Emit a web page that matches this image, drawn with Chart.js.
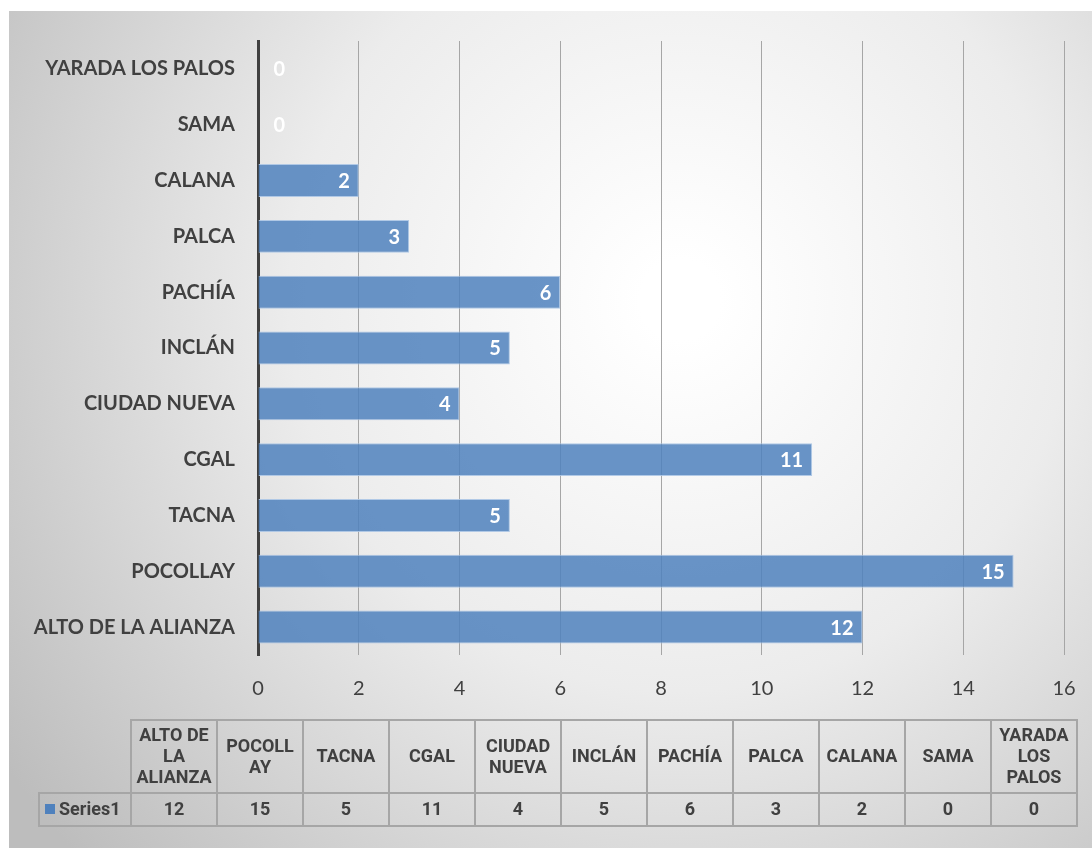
<!DOCTYPE html>
<html lang="es">
<head>
    <meta charset="UTF-8">
    <title>Casos por distrito</title>
    <script src="https://cdn.jsdelivr.net/npm/chart.js"></script>
    <style>
        html, body { margin: 0; padding: 0; background: #ffffff; }
        #wrap { width: 1092px; height: 848px; position: relative; }
    </style>
</head>
<body>
    <div id="wrap">
        <canvas id="barChart" width="1092" height="848"></canvas>
    </div>

    <script>
        // Distritos (orden de la tabla) y cantidades
        var distritos = ['ALTO DE LA ALIANZA', 'POCOLLAY', 'TACNA', 'CGAL', 'CIUDAD NUEVA', 'INCLÁN', 'PACHÍA', 'PALCA', 'CALANA', 'SAMA', 'YARADA LOS PALOS'];
        var cabecerasTabla = [['ALTO DE', 'LA', 'ALIANZA'], ['POCOLL', 'AY'], ['TACNA'], ['CGAL'], ['CIUDAD', 'NUEVA'], ['INCLÁN'], ['PACHÍA'], ['PALCA'], ['CALANA'], ['SAMA'], ['YARADA', 'LOS', 'PALOS']];
        var serie1 = [12, 15, 5, 11, 4, 5, 6, 3, 2, 0, 0];
        var nombreSerie = 'Series1';
        var ticksX = [0, 2, 4, 6, 8, 10, 12, 14, 16];

        // fondo gris con degradado radial
        var fondo = {
            id: 'fondo',
            beforeDraw: function (chart) {
                var ctx = chart.ctx;
                ctx.save();
                ctx.fillStyle = '#ffffff';
                ctx.fillRect(0, 0, chart.width, chart.height);
                var g = ctx.createRadialGradient(680, 300, 40, 680, 300, 820);
                g.addColorStop(0, '#ffffff');
                g.addColorStop(0.45, '#ececec');
                g.addColorStop(1, '#bdbdbd');
                ctx.fillStyle = g;
                ctx.fillRect(9, 11, chart.width - 9, chart.height - 11);
                ctx.restore();
            }
        };

        // etiquetas de valor dentro del extremo de cada barra
        var etiquetas = {
            id: 'etiquetas',
            afterDatasetsDraw: function (chart) {
                var ctx = chart.ctx;
                var meta = chart.getDatasetMeta(0);
                ctx.save();
                ctx.font = 'bold 20px Lato, sans-serif';
                ctx.fillStyle = '#ffffff';
                ctx.textAlign = 'right';
                ctx.textBaseline = 'middle';
                meta.data.forEach(function (bar, i) {
                    var x = Math.max(bar.x - 9, bar.base + 27);
                    ctx.fillText(String(serie1[i]), x, bar.y + 1);
                });
                ctx.restore();
            }
        };

        // tabla de datos debajo del eje
        var tablaDatos = {
            id: 'tablaDatos',
            afterDraw: function (chart) {
                var ctx = chart.ctx;
                var x0 = 131, colW = 86, yTop = 720, yMid = 793, yBot = 826, xSerie = 39;
                var n = distritos.length;
                ctx.save();
                ctx.strokeStyle = '#a6a6a6';
                ctx.lineWidth = 2;
                ctx.strokeRect(x0, yTop, colW * n, yMid - yTop);
                ctx.strokeRect(xSerie, yMid, x0 + colW * n - xSerie, yBot - yMid);
                ctx.beginPath();
                ctx.moveTo(x0, yMid); ctx.lineTo(x0, yBot);
                for (var i = 1; i < n; i++) {
                    ctx.moveTo(x0 + colW * i, yTop);
                    ctx.lineTo(x0 + colW * i, yBot);
                }
                ctx.stroke();

                ctx.fillStyle = '#404040';
                ctx.font = 'bold 18px "Liberation Sans Narrow", Roboto, sans-serif';
                ctx.textAlign = 'center';
                ctx.textBaseline = 'middle';
                var lh = 21;
                cabecerasTabla.forEach(function (lineas, i) {
                    var cx = x0 + colW * i + colW / 2;
                    var cy = (yTop + yMid) / 2 - (lineas.length - 1) * lh / 2 + 1;
                    lineas.forEach(function (t, k) {
                        ctx.fillText(t, cx, cy + k * lh);
                    });
                    ctx.fillText(String(serie1[i]), cx, (yMid + yBot) / 2 + 1);
                });

                // leyenda de la serie
                ctx.fillStyle = '#4f81bd';
                ctx.fillRect(45, 804, 10, 10);
                ctx.fillStyle = '#404040';
                ctx.textAlign = 'left';
                ctx.fillText(nombreSerie, 59, (yMid + yBot) / 2 + 1);
                ctx.restore();
            }
        };

        var chartConfig = {
            type: 'bar',
            data: {
                labels: distritos,
                datasets: [{
                    label: nombreSerie,
                    data: serie1,
                    backgroundColor: 'rgba(79, 129, 189, 0.85)',
                    borderColor: 'rgba(170, 196, 228, 0.9)',
                    borderWidth: 1,
                    barPercentage: 0.59,
                    categoryPercentage: 1
                }]
            },
            options: {
                indexAxis: 'y',
                responsive: false,
                animation: false,
                layout: { padding: { top: 41, right: 28, left: 0, bottom: 0 } },
                plugins: {
                    legend: { display: false },
                    tooltip: { enabled: false }
                },
                scales: {
                    x: {
                        min: 0,
                        max: 16,
                        afterBuildTicks: function (s) {
                            s.ticks = ticksX.map(function (v) { return { value: v }; });
                        },
                        afterFit: function (s) { s.height = 193; },
                        // marcas invisibles para separar los números del área
                        grid: { color: '#a6a6a6', lineWidth: 1, drawTicks: true, tickLength: 22, tickColor: 'rgba(0,0,0,0)' },
                        border: { display: false },
                        ticks: {
                            padding: 0,
                            color: '#404040',
                            font: { family: 'Lato, sans-serif', size: 20 }
                        }
                    },
                    y: {
                        reverse: true,
                        afterFit: function (s) { s.width = 258; },
                        grid: { display: false, drawTicks: false },
                        border: { display: true, color: '#404040', width: 3 },
                        ticks: {
                            padding: 23,
                            color: '#404040',
                            font: { family: 'Lato, sans-serif', size: 20, weight: 'bold' }
                        }
                    }
                }
            },
            plugins: [fondo, etiquetas, tablaDatos]
        };

        var barChart = new Chart(document.getElementById('barChart'), chartConfig);
    </script>
</body>
</html>
